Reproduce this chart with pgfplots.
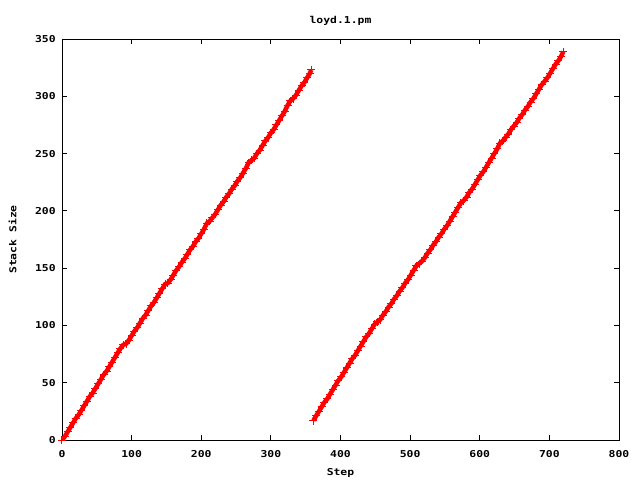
\documentclass[border=0pt]{standalone}
\usepackage{fontspec}
\setmainfont{DejaVu Sans Mono}[FakeStretch=1.2]
\usepackage{pgfplots}
\pgfplotsset{compat=1.18}
\pgfplotstableread{
x y
0 0
4 3
8 7
12 11
16 15
20 19
24 22
28 26
32 30
36 34
40 38
44 41
48 45
52 49
56 53
60 57
64 60
68 64
72 68
76 72
80 76
84 80
88 83
92 84
96 87
100 91
104 95
108 98
112 102
116 106
120 109
124 113
128 117
132 120
136 124
140 128
144 132
148 136
152 137
156 140
160 144
164 148
168 151
172 155
176 158
180 162
184 166
188 169
192 173
196 176
200 180
204 184
208 189
212 191
216 194
220 197
224 201
228 205
232 208
236 212
240 215
244 219
248 222
252 226
256 229
260 233
264 237
268 242
272 244
276 246
280 250
284 253
288 257
292 261
296 264
300 268
304 271
308 275
312 279
316 283
320 287
324 292
328 296
332 298
336 301
340 305
344 309
348 312
352 316
356 320
358 323
}\seriesA
\pgfplotstableread{
x y
361 17
365 21
369 25
373 29
377 33
381 36
385 40
389 44
393 48
397 52
401 55
405 59
409 63
413 67
417 71
421 74
425 78
429 82
433 86
437 90
441 93
445 97
449 101
453 103
457 105
461 109
465 112
469 116
473 119
477 123
481 126
485 130
489 133
493 137
497 140
501 144
505 148
509 152
513 154
517 156
521 159
525 163
529 166
533 170
537 173
541 177
545 180
549 184
553 187
557 191
561 195
565 199
569 203
573 207
577 209
581 212
585 216
589 219
593 223
597 227
601 231
605 234
609 238
613 242
617 246
621 250
625 254
629 259
633 261
637 264
641 267
645 271
649 274
653 277
657 281
661 284
665 288
669 291
673 295
677 298
681 302
685 306
689 310
693 313
697 316
701 320
705 324
709 328
713 331
717 335
720 339
}\seriesB
\begin{document}
\fontsize{9.5bp}{11bp}\selectfont\bfseries
\begin{tikzpicture}
\path[use as bounding box] (0,0) rectangle (640bp,480bp);
\begin{axis}[
  at={(62bp,40bp)}, anchor=south west,
  scale only axis, width=557bp, height=401bp,
  xmin=0, xmax=800, ymin=0, ymax=350,
  xtick={0,100,...,800}, ytick={0,50,...,350},
  tick align=inside, major tick length=5bp,
  axis line style={line width=0.8bp},
  every tick/.style={black, line width=0.8bp},
  /pgf/number format/assume math mode=true,
  ticklabel style={font=\fontsize{9.5bp}{11bp}\selectfont\bfseries},
  xticklabel style={yshift=-7bp},
  yticklabel style={xshift=-3bp},
  label style={font=\fontsize{9.5bp}{11bp}\selectfont\bfseries},
  title style={font=\fontsize{9.5bp}{11bp}\selectfont\bfseries, at={(axis description cs:0.5,1.0499)}, anchor=center, yshift=-8bp},
  xlabel style={at={(axis description cs:0.5,-0.0823)}, anchor=center},
  ylabel style={at={(axis description cs:-0.0889,0.5)}, anchor=center},
  title={loyd.1.pm}, xlabel={Step}, ylabel={Stack Size},
]
\addplot[red, line width=4.5bp, mark=+, mark size=4bp, mark options={line width=1bp}] table[x=x,y=y] {\seriesA};
\addplot[red, line width=4.5bp, mark=+, mark size=4bp, mark options={line width=1bp}] table[x=x,y=y] {\seriesB};
\end{axis}
\end{tikzpicture}
\end{document}
